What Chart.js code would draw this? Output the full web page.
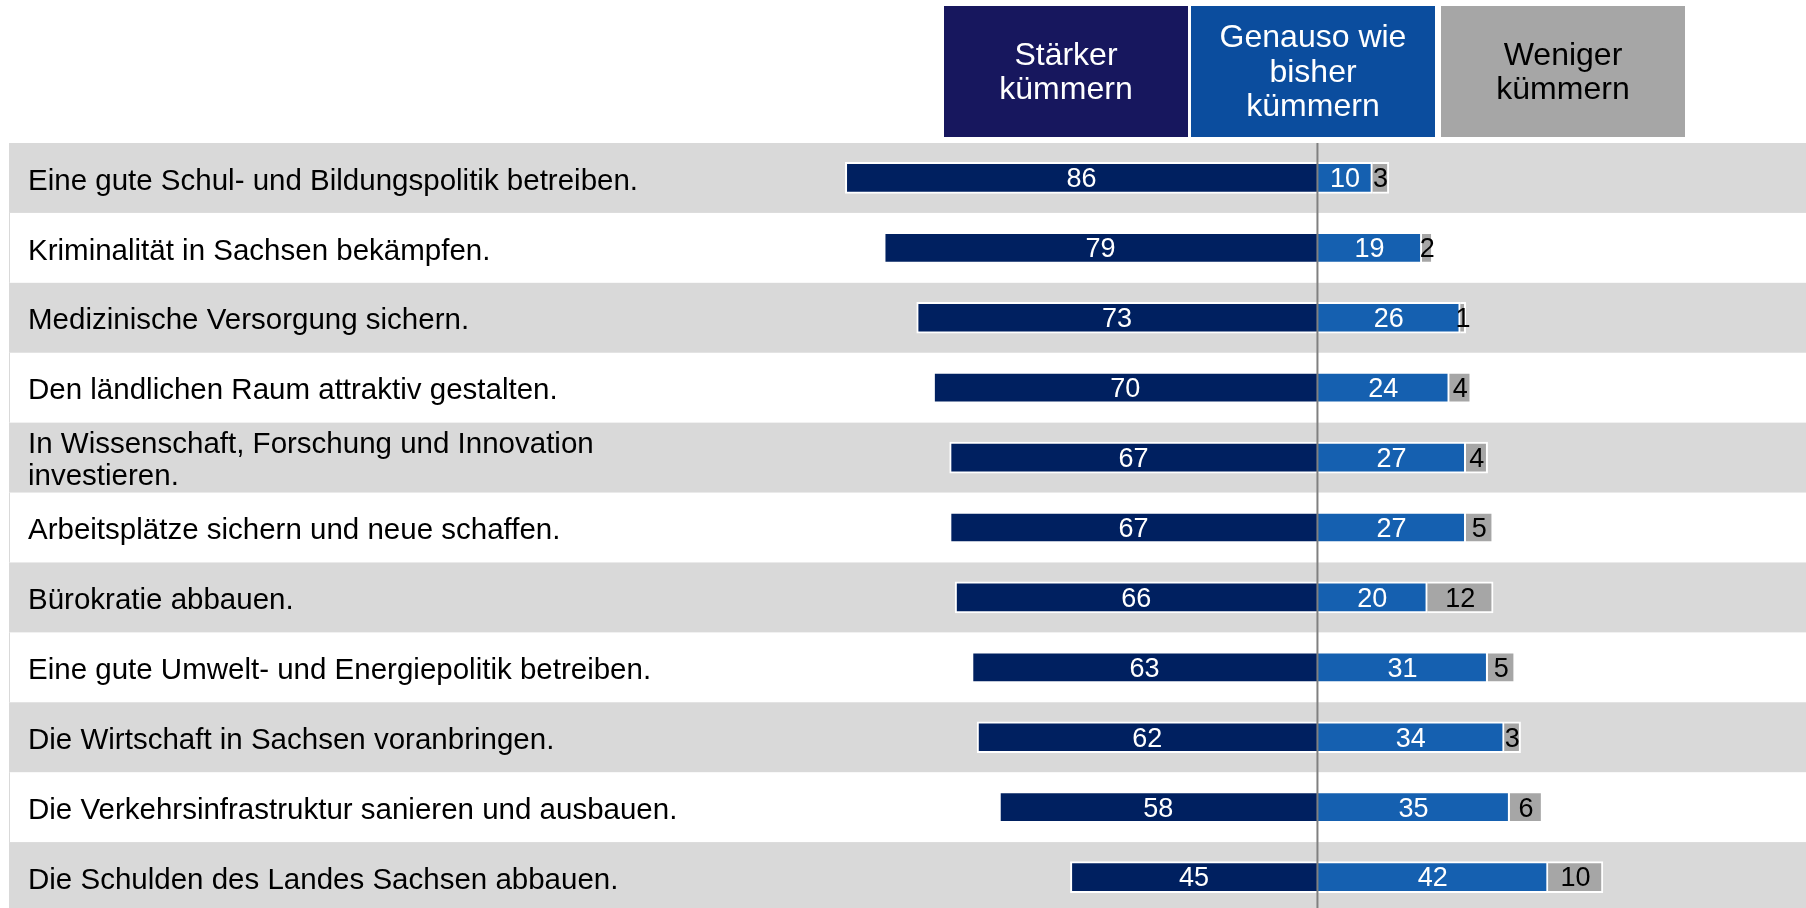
<!DOCTYPE html>
<html lang="de">
  <head>
    <title>Sachsen – Wofür soll sich die Regierung kümmern?</title>
    <meta charset="UTF-8" />
    <script src="https://cdn.jsdelivr.net/npm/chart.js@4/dist/chart.umd.min.js"></script>
    <style>
      html, body { margin: 0; padding: 0; background: #fff; overflow: hidden; }
      #box { position: relative; width: 1806px; height: 912px; }
    </style>
  </head>
  <body>
    <div id="box"><canvas id="grafico"></canvas></div>
    <script>
      // Daten
      const themen = [
        'Eine gute Schul- und Bildungspolitik betreiben.',
        'Kriminalität in Sachsen bekämpfen.',
        'Medizinische Versorgung sichern.',
        'Den ländlichen Raum attraktiv gestalten.',
        ['In Wissenschaft, Forschung und Innovation', 'investieren.'],
        'Arbeitsplätze sichern und neue schaffen.',
        'Bürokratie abbauen.',
        'Eine gute Umwelt- und Energiepolitik betreiben.',
        'Die Wirtschaft in Sachsen voranbringen.',
        'Die Verkehrsinfrastruktur sanieren und ausbauen.',
        'Die Schulden des Landes Sachsen abbauen.',
      ];
      const staerker = [86, 79, 73, 70, 67, 67, 66, 63, 62, 58, 45];
      const genauso = [10, 19, 26, 24, 27, 27, 20, 31, 34, 35, 42];
      const weniger = [3, 2, 1, 4, 4, 5, 12, 5, 3, 6, 10];
      const kopf = [
        ['Stärker', 'kümmern'],
        ['Genauso wie', 'bisher', 'kümmern'],
        ['Weniger', 'kümmern'],
      ];

      const font = '"Liberation Sans", Arial, sans-serif';

      // Zeilen-Hintergrund, Beschriftungen, Mittellinie, Kopfzeile
      const deko = {
        id: 'deko',
        beforeDatasetsDraw(chart) {
          const ctx = chart.ctx;
          const y = chart.scales.y;
          const h = y.height / themen.length;
          ctx.save();
          themen.forEach((t, i) => {
            const cy = y.getPixelForValue(i);
            ctx.fillStyle = '#D9D9D9';
            if (i % 2 == 0) {
              ctx.fillRect(9, cy - h / 2, chart.width - 9, h);
            } else {
              ctx.fillRect(9, cy - h / 2, 1, h);
            }
            ctx.fillStyle = '#000';
            ctx.font = '29.5px ' + font;
            ctx.textBaseline = 'middle';
            ctx.textAlign = 'left';
            const zeilen = Array.isArray(t) ? t : [t];
            zeilen.forEach((z, k) => {
              ctx.fillText(z, 28, cy + 3.5 + (k - (zeilen.length - 1) / 2) * 32);
            });
          });
          ctx.restore();
        },
        afterDatasetsDraw(chart) {
          const ctx = chart.ctx;
          ctx.save();
          // Werte
          ctx.font = '27px ' + font;
          ctx.textAlign = 'center';
          ctx.textBaseline = 'middle';
          chart.data.datasets.forEach((ds, d) => {
            chart.getDatasetMeta(d).data.forEach((bar, i) => {
              ctx.fillStyle = d == 2 ? '#000' : '#fff';
              ctx.fillText(Math.abs(ds.data[i]), (bar.x + bar.base) / 2, bar.y + 2);
            });
          });
          // Mittellinie
          const x0 = chart.scales.x.getPixelForValue(0);
          ctx.strokeStyle = '#808080';
          ctx.lineWidth = 2;
          ctx.beginPath();
          ctx.moveTo(x0, chart.chartArea.top);
          ctx.lineTo(x0, chart.chartArea.bottom);
          ctx.stroke();
          // Kopfzeile
          const boxen = [
            [944, 244, '#17175E', '#fff'],
            [1191, 244, '#0B4D9E', '#fff'],
            [1441, 244, '#A6A6A6', '#000'],
          ];
          ctx.font = '32px ' + font;
          boxen.forEach((b, k) => {
            ctx.fillStyle = b[2];
            ctx.fillRect(b[0], 6, b[1], 131);
            ctx.fillStyle = b[3];
            const zeilen = kopf[k];
            zeilen.forEach((z, j) => {
              ctx.fillText(z, b[0] + b[1] / 2, 73 + (j - (zeilen.length - 1) / 2) * 34.5);
            });
          });
          ctx.restore();
        },
      };

      const ds = (label, werte, farbe) => ({
        label: label,
        data: werte,
        backgroundColor: farbe,
        borderColor: '#fff',
        borderWidth: 2,
        barThickness: 31,
      });

      new Chart(document.getElementById('grafico'), {
        type: 'bar',
        data: {
          labels: themen,
          datasets: [
            ds('Stärker kümmern', staerker.map((v) => -v), '#002060'),
            ds('Genauso wie bisher kümmern', genauso, '#1560B0'),
            ds('Weniger kümmern', weniger, '#A6A6A6'),
          ],
        },
        options: {
          indexAxis: 'y',
          responsive: true,
          maintainAspectRatio: false,
          animation: false,
          layout: { padding: { top: 143, left: 0, right: 0, bottom: 0 } },
          scales: {
            x: { stacked: true, display: false, min: -240, max: 89 },
            y: { stacked: true, display: false },
          },
          plugins: {
            legend: { display: false },
            tooltip: {
              callbacks: {
                label: (c) => c.dataset.label + ': ' + Math.abs(c.raw),
              },
            },
          },
        },
        plugins: [deko],
      });
    </script>
  </body>
</html>
